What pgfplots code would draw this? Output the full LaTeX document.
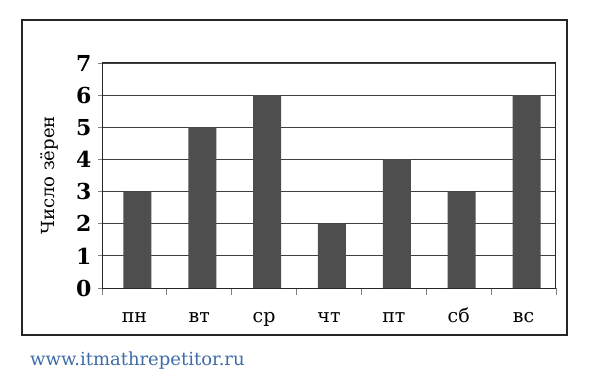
\documentclass[border=0pt]{standalone}
\usepackage{pgfplots}
\pgfplotsset{compat=1.18}
\usepackage{fontspec}
\setmainfont{DejaVu Serif}
\definecolor{barc}{RGB}{78,78,78}
\definecolor{wm}{RGB}{62,108,168}
\begin{document}
\begin{tikzpicture}[x=1pt,y=1pt]
\path[fill=white] (0,0) rectangle (594,383);
\draw[line width=1.1pt,black!85] (22,48) rectangle (567,363);
\begin{axis}[
  at={(102pt,95pt)}, anchor=south west,
  scale only axis, width=454pt, height=225pt,
  xmin=-0.5, xmax=6.5, ymin=0, ymax=7,
  ybar, bar width=28pt, bar shift=3pt,
  xtick={0,...,6},
  xticklabels={пн,вт,ср,чт,пт,сб,вс},
  major x tick style={draw=none},
  minor xtick={-0.5,0.5,...,6.5},
  minor x tick style={line width=0.9pt},
  minor tick length=7pt,
  tick align=outside,
  xtick pos=bottom,
  ytick={0,...,7},
  ytick pos=left,
  major y tick style={line width=0.8pt},
  major tick length=4pt,
  ymajorgrids,
  major grid style={line width=0.8pt, black!75},
  axis line style={line width=1pt, black!85},
  yticklabel style={font=\fontsize{22}{24}\selectfont\bfseries, xshift=-3pt},
  /pgf/number format/assume math mode=true,
  xticklabel style={font=\fontsize{19}{22}\selectfont, anchor=base, text height=12pt, text depth=4pt, yshift=-30pt},
  ylabel={Число зёрен},
  every axis y label/.style={at={(axis description cs:-0.115,0.5)}, rotate=90, anchor=center, font=\fontsize{18}{20}\selectfont},
]
\addplot[fill=barc, draw=none] coordinates {(0,3) (1,5) (2,6) (3,2) (4,4) (5,3) (6,6)};
\end{axis}
\node[anchor=west, text=wm, font=\fontsize{18}{20}\selectfont, inner sep=0pt] at (30,22) {www.itmathrepetitor.ru};
\end{tikzpicture}
\end{document}
